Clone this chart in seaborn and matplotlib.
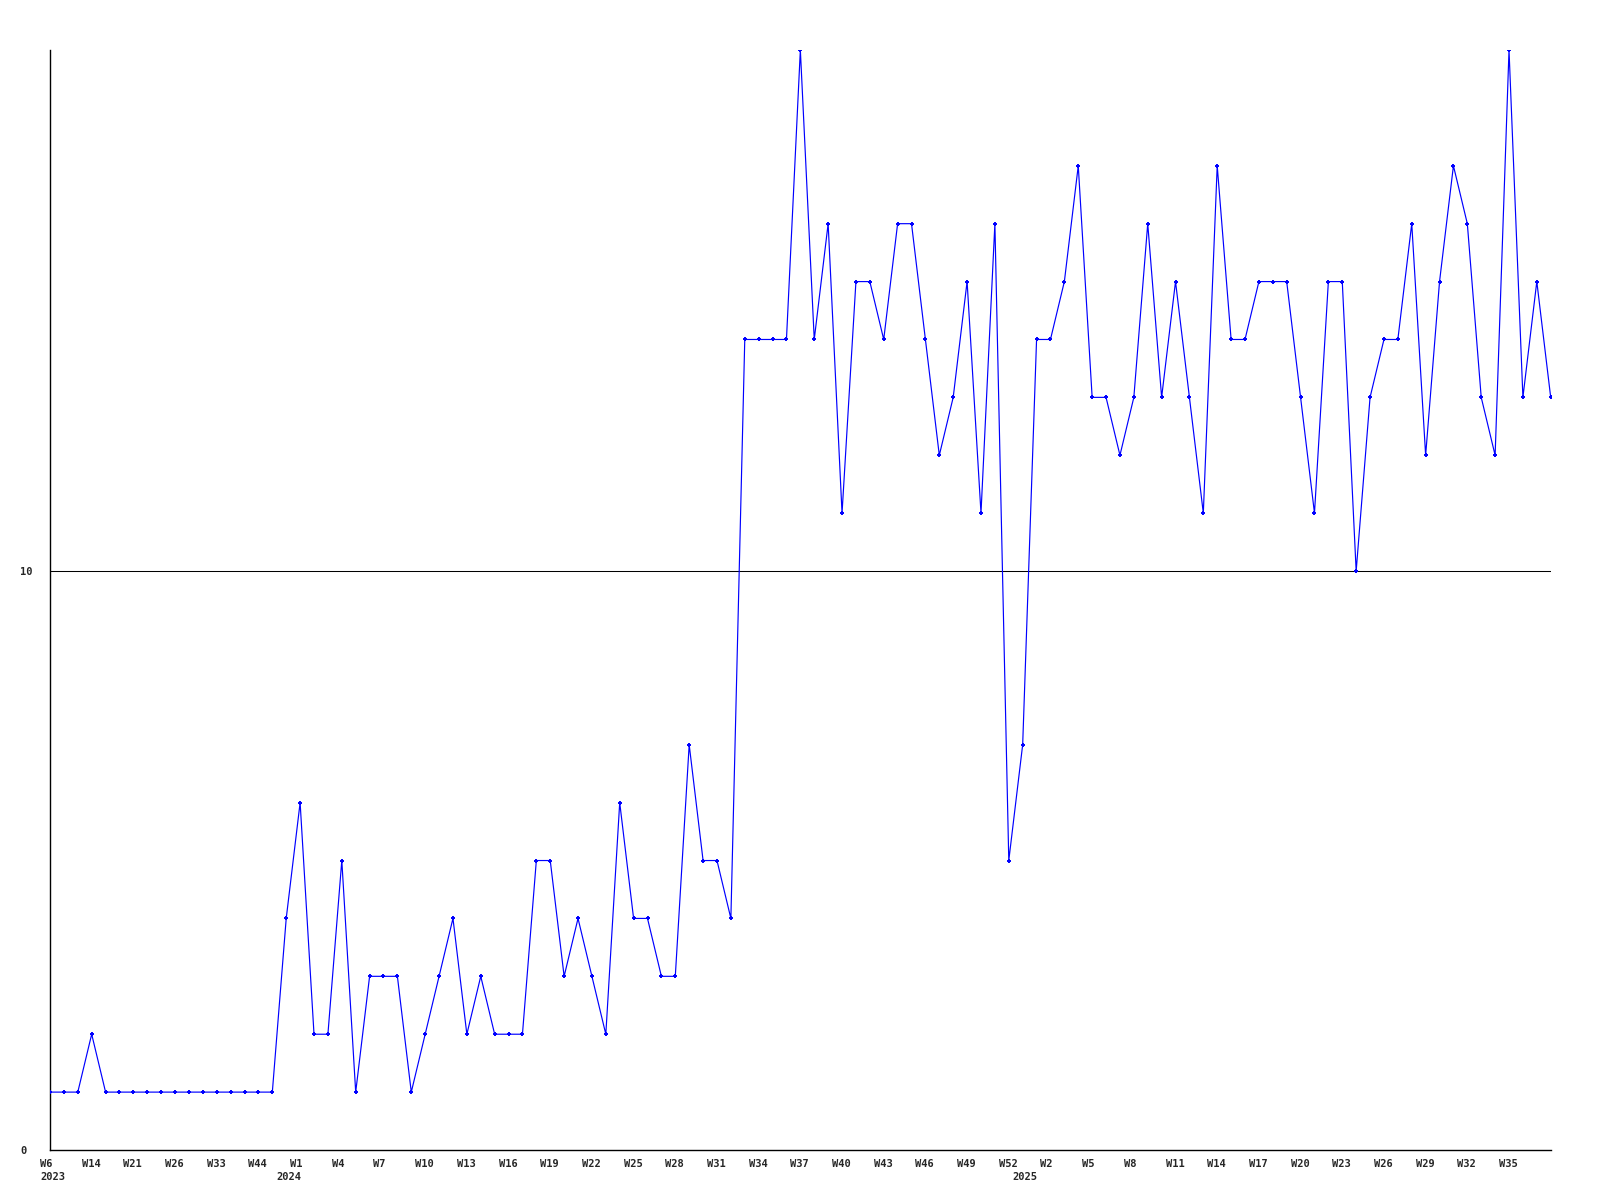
import numpy as np
import pandas as pd
import matplotlib
matplotlib.use("Agg")
import matplotlib.pyplot as plt
import matplotlib.transforms as mtransforms
import seaborn as sns

# weekly counts, one per data point (2023 has gaps, so x is just the point index)
counts = [1, 1, 1, 2, 1, 1, 1, 1, 1, 1, 1, 1, 1, 1, 1, 1, 1,
          4, 6, 2, 2, 5, 1, 3, 3, 3, 1, 2, 3, 4, 2, 3, 2, 2, 2, 5,
          5, 3, 4, 3, 2, 6, 4, 4, 3, 3, 7, 5, 5, 4, 14, 14, 14, 14,
          19, 14, 16, 11, 15, 15, 14, 16, 16, 14, 12, 13, 15, 11, 16,
          5, 7, 14, 14, 15, 17, 13, 13, 12, 13, 16, 13, 15, 13, 11,
          17, 14, 14, 15, 15, 15, 13, 11, 15, 15, 10, 13, 14, 14, 16,
          12, 15, 17, 16, 13, 12, 19, 13, 15, 13]

# every third point gets a week label
week_labels = ["W6", "W14", "W21", "W26", "W33", "W44",
               "W1", "W4", "W7", "W10", "W13", "W16", "W19", "W22", "W25",
               "W28", "W31", "W34", "W37", "W40", "W43", "W46", "W49", "W52",
               "W2", "W5", "W8", "W11", "W14", "W17", "W20", "W23", "W26",
               "W29", "W32", "W35"]
label_step = 3

# year label sits under the first point of each year
years = ["2023", "2024", "2025"]
year_start = [0, 17, 70]

y_ticks = [0, 10]

df = pd.DataFrame({"idx": np.arange(len(counts)), "count": counts})

sns.set_style("white")
plt.rcParams["font.family"] = ["DejaVu Sans Mono", "DejaVu Sans"]
plt.rcParams["font.weight"] = "bold"

fig = plt.figure(figsize=(16, 12), dpi=100)
ax = fig.add_axes([50 / 1600, 50 / 1200, 1500.7 / 1600, 1100 / 1200])

ax.axhline(10, color="black", lw=0.75, zorder=1)
sns.lineplot(data=df, x="idx", y="count", ax=ax, color="#0000ff", lw=0.85,
             marker="+", markersize=3.2, markeredgewidth=1.4,
             markeredgecolor="#0000ff", zorder=3)

ax.set_xlim(0, len(counts) - 1)
ax.set_ylim(0, 19)
ax.set_xlabel("")
ax.set_ylabel("")

for side in ["top", "right"]:
    ax.spines[side].set_visible(False)
for side in ["left", "bottom"]:
    ax.spines[side].set_color("black")
    ax.spines[side].set_linewidth(1.0)

ax.set_xticks(np.arange(len(week_labels)) * label_step)
ax.set_xticklabels(week_labels)
ax.set_yticks(y_ticks)
ax.set_yticklabels([str(v) for v in y_ticks])
ax.tick_params(axis="x", length=0, pad=6.5, labelsize=7.5)
ax.tick_params(axis="y", length=0, pad=0, labelsize=7.5)

shift_x = mtransforms.ScaledTranslation(-10 / 100, 0, fig.dpi_scale_trans)
for lab in ax.get_xticklabels():
    lab.set_horizontalalignment("left")
    lab.set_fontweight("bold")
    lab.set_transform(lab.get_transform() + shift_x)

shift_y = mtransforms.ScaledTranslation(-30 / 100, 0, fig.dpi_scale_trans)
for lab in ax.get_yticklabels():
    lab.set_horizontalalignment("left")
    lab.set_fontweight("bold")
    lab.set_transform(lab.get_transform() + shift_y)

for yr, pos in zip(years, year_start):
    ax.annotate(yr, xy=(pos, 0), xycoords=("data", "axes fraction"),
                xytext=(-7.2, -16.0), textcoords="offset points",
                ha="left", va="top", fontsize=7.5, fontweight="bold")

fig.savefig("out.png", dpi=100, facecolor="white")
